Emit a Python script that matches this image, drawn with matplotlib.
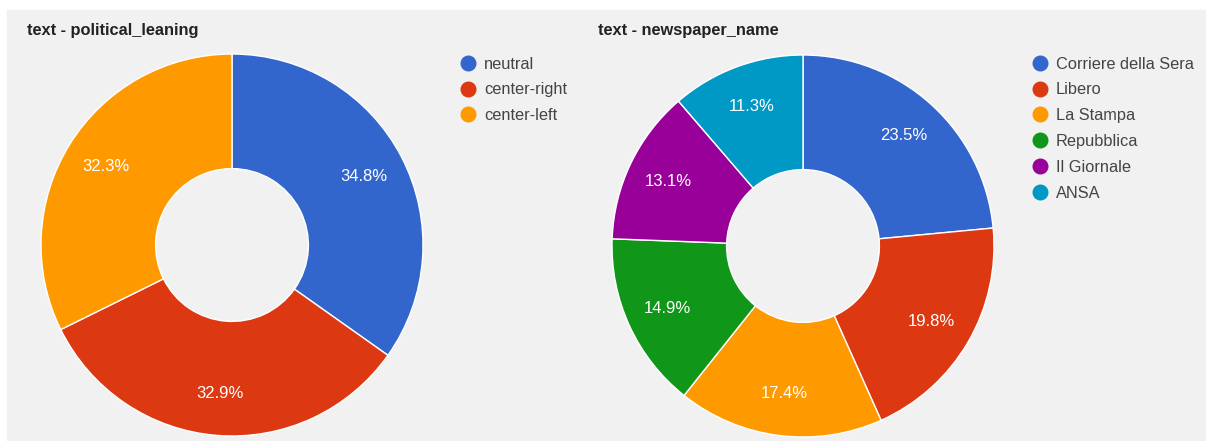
import matplotlib.pyplot as plt
from matplotlib.patches import Rectangle
from matplotlib.lines import Line2D

W, H = 1206, 441

lean_labels = ['neutral', 'center-right', 'center-left']
lean_values = [34.8, 32.9, 32.3]

paper_labels = ['Corriere della Sera', 'Libero', 'La Stampa', 'Repubblica', 'Il Giornale', 'ANSA']
paper_values = [23.5, 19.8, 17.4, 14.9, 13.1, 11.3]

colors = ['#3366cc', '#dc3912', '#ff9900', '#109618', '#990099', '#0099c6']

plt.rcParams['font.family'] = ['Liberation Sans', 'DejaVu Sans']

fig = plt.figure(figsize=(W / 100, H / 100), dpi=100)
fig.patch.set_facecolor('white')
fig.patches.append(Rectangle((7 / W, 0), (W - 7) / W, (H - 10) / H,
                             transform=fig.transFigure, color='#f1f1f1', zorder=-10))


def px_axes(cx, cy, r):
    # cx, cy in pixels from the top-left corner
    return fig.add_axes([(cx - r) / W, (H - cy - r) / H, 2 * r / W, 2 * r / H])


def donut(ax, values, cols):
    ax.pie(values, colors=cols, startangle=90, counterclock=False,
           radius=1, autopct='%.1f%%', pctdistance=0.78,
           wedgeprops=dict(width=0.6, edgecolor='white', linewidth=1),
           textprops=dict(color='white', fontsize=12))
    ax.set_xlim(-1, 1)
    ax.set_ylim(-1, 1)
    ax.set_aspect('equal')
    ax.axis('off')


def legend(x, y0, labels, cols):
    handles = [Line2D([], [], marker='o', linestyle='', markersize=10.5,
                      markerfacecolor=c, markeredgecolor=c) for c in cols]
    fig.legend(handles, labels, loc='upper left',
               bbox_to_anchor=(x / W, 1 - y0 / H), frameon=False,
               fontsize=11.8, labelcolor='#444444', handletextpad=0.35,
               labelspacing=0.66, borderaxespad=0, handlelength=1.2)


ax1 = px_axes(232, 245, 191)
donut(ax1, lean_values, colors[:3])
ax2 = px_axes(803, 246, 191)
donut(ax2, paper_values, colors)

fig.text(27 / W, 1 - 31 / H, 'text - political_leaning', fontsize=11.8, fontweight='bold',
         va='center', ha='left', color='#222222')
fig.text(598 / W, 1 - 31 / H, 'text - newspaper_name', fontsize=11.8, fontweight='bold',
         va='center', ha='left', color='#222222')

legend(452, 50, lean_labels, colors[:3])
legend(1024, 50, paper_labels, colors)

fig.savefig('out.png', dpi=100)
